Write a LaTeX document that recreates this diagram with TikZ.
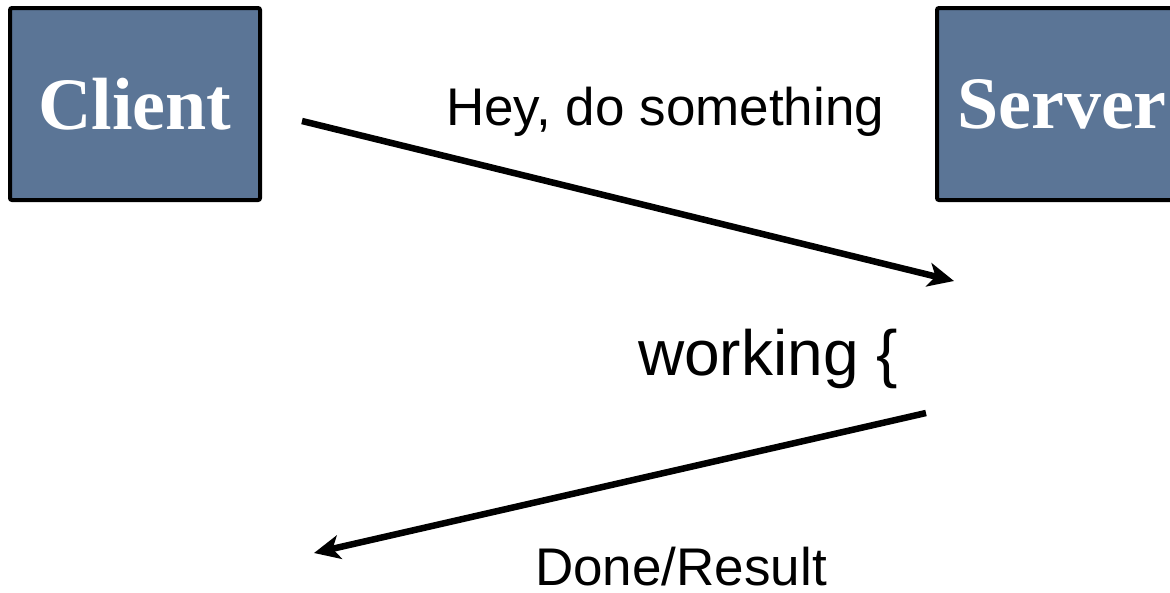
\documentclass[tikz,border=0pt]{standalone}
\usepackage{fontspec}
\setmainfont{Liberation Serif}
\newfontfamily\arialfont{Liberation Sans}
\usetikzlibrary{arrows.meta}
\definecolor{boxblue}{HTML}{5B7596}
\tikzset{
  hostbox/.style={draw=black, line width=4pt, fill=boxblue, rounded corners=2pt,
    minimum width=250pt, minimum height=192pt, inner sep=0pt, text=white,
    font=\fontsize{74}{80}\selectfont\bfseries},
  msg/.style={anchor=base west, inner sep=0pt, font=\arialfont\fontsize{53}{60}\selectfont},
  conn/.style={line width=6.5pt, -{Stealth[length=26pt,width=24pt,inset=7pt]}}
}
\begin{document}
\begin{tikzpicture}[x=1pt,y=-1pt]
\useasboundingbox (0,0) rectangle (1170,592);
\clip (0,0) rectangle (1170,592);
\fill[white] (0,0) rectangle (1170,592);
\node[hostbox] (client) at (135,104) {Client};
\node[hostbox] (server) at (1062,104) {Server};
\node[msg] (req) at (446,125) {Hey, do something};
\node[msg, font=\arialfont\fontsize{64}{70}\selectfont] (work) at (638,375) {working \{};
\node[msg, font=\arialfont\fontsize{53}{60}\selectfont] (resp) at (535,585) {Done/Result};
\coordinate (c1) at (302,121);
\coordinate (s1) at (954,281);
\coordinate (s2) at (926,413);
\coordinate (c2) at (314,553);
\draw[conn] (c1) -- (s1);
\draw[conn] (s2) -- (c2);
\end{tikzpicture}
\end{document}
